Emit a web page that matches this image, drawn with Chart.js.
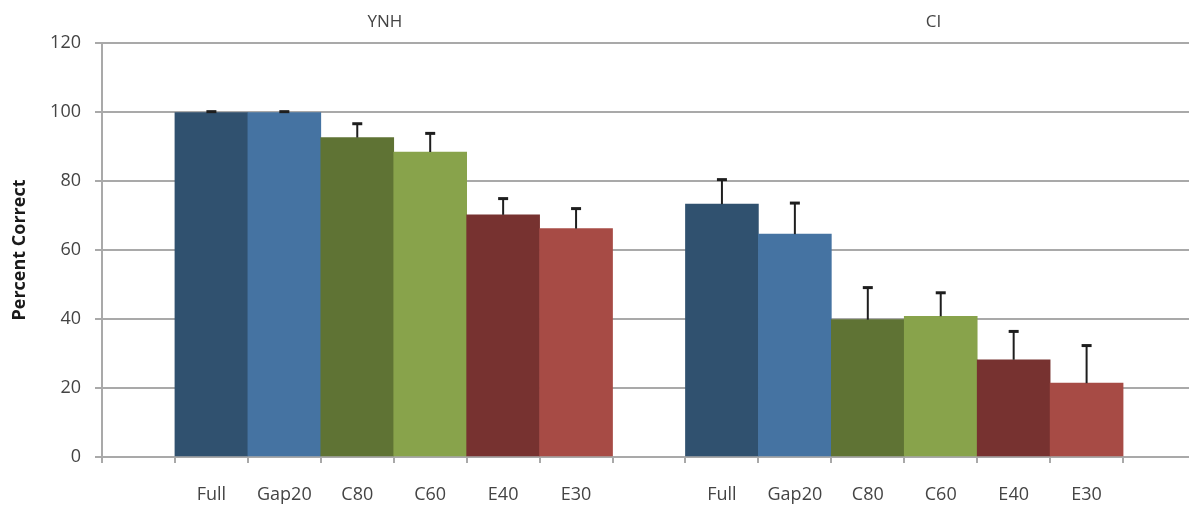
<!DOCTYPE html>
<html>
<head>
<meta charset="utf-8">
<title>Percent Correct by Condition</title>
<script src="https://cdn.jsdelivr.net/npm/chart.js@4.4.1/dist/chart.umd.min.js"></script>
<style>
  html, body { margin: 0; padding: 0; background: #ffffff; overflow: hidden; }
  #wrap { position: absolute; left: 0; top: 0; width: 1196px; height: 508px; }
</style>
</head>
<body>
<div id="wrap"><canvas id="chart"></canvas></div>
<script>
// Listener groups and stimulus conditions
const groups = ['YNH', 'CI'];
const conditions = ['Full', 'Gap20', 'C80', 'C60', 'E40', 'E30'];

// Mean percent correct per condition
const ynhMeans = [99.8, 99.8, 92.6, 88.4, 70.2, 66.2];
const ciMeans = [73.3, 64.6, 39.8, 40.8, 28.2, 21.4];

// Upper error (one standard error) per condition
const ynhErrors = [0.3, 0.3, 4.0, 5.4, 4.7, 5.8];
const ciErrors = [7.1, 9.0, 9.3, 6.8, 8.2, 10.9];

// Y axis ticks
const yTicks = [0, 20, 40, 60, 80, 100, 120];

// One colour per condition
const conditionColors = ['#30516f', '#4573a2', '#5f7334', '#88a34b', '#773230', '#a74b45'];

// Category axis: an empty slot before each group and one after the last
const labels = [''].concat(conditions, [''], conditions, ['']);
const values = [null].concat(ynhMeans, [null], ciMeans, [null]);
const errors = [null].concat(ynhErrors, [null], ciErrors, [null]);
const colors = ['#ffffff'].concat(conditionColors, ['#ffffff'], conditionColors, ['#ffffff']);

const axisGray = '#a9a9a9';
const textGray = '#444444';
const fontFamily = '"Open Sans", "Liberation Sans", sans-serif';

// Upward error bars with caps
const errorBarPlugin = {
  id: 'errorBars',
  afterDatasetsDraw(chart) {
    const meta = chart.getDatasetMeta(0);
    const yScale = chart.scales.y;
    const ctx = chart.ctx;
    ctx.save();
    ctx.strokeStyle = '#1e1e1e';
    meta.data.forEach((bar, i) => {
      const v = values[i];
      const e = errors[i];
      if (v === null || e === null) return;
      const yTop = yScale.getPixelForValue(v + e);
      const yBar = yScale.getPixelForValue(v);
      ctx.lineWidth = 2;
      ctx.beginPath();
      ctx.moveTo(bar.x, yBar);
      ctx.lineTo(bar.x, yTop);
      ctx.stroke();
      ctx.lineWidth = 3;
      ctx.beginPath();
      ctx.moveTo(bar.x - 5, yTop);
      ctx.lineTo(bar.x + 5, yTop);
      ctx.stroke();
    });
    ctx.restore();
  }
};

// Group names above the plot
const groupLabelPlugin = {
  id: 'groupLabels',
  afterDraw(chart, args, opts) {
    const xScale = chart.scales.x;
    const ctx = chart.ctx;
    ctx.save();
    ctx.fillStyle = textGray;
    ctx.font = '17px ' + fontFamily;
    ctx.textAlign = 'center';
    ctx.textBaseline = 'middle';
    groups.forEach((g, i) => {
      ctx.fillText(g, xScale.getPixelForValue(opts.positions[i]), opts.y);
    });
    ctx.restore();
  }
};

new Chart(document.getElementById('chart'), {
  type: 'bar',
  data: {
    labels: labels,
    datasets: [{
      data: values,
      backgroundColor: colors,
      borderWidth: 0,
      barPercentage: 1.0,
      categoryPercentage: 1.0
    }]
  },
  options: {
    responsive: true,
    maintainAspectRatio: false,
    animation: false,
    layout: { padding: { top: 43, right: 0, bottom: 0, left: 0 } },
    plugins: {
      legend: { display: false },
      tooltip: { enabled: false },
      groupLabels: { positions: [3.38, 10.9], y: 22 }
    },
    scales: {
      x: {
        type: 'category',
        offset: true,
        grid: {
          offset: true,
          drawOnChartArea: false,
          drawTicks: true,
          tickLength: 6,
          color: axisGray,
          lineWidth: 2
        },
        border: { display: true, color: axisGray, width: 2 },
        ticks: {
          color: textGray,
          font: { family: fontFamily, size: 18 },
          padding: 21,
          maxRotation: 0,
          autoSkip: false
        },
        afterFit(scale) { scale.height = 51; }
      },
      y: {
        min: 0,
        max: 120,
        afterBuildTicks(scale) { scale.ticks = yTicks.map(v => ({ value: v })); },
        grid: {
          color: axisGray,
          lineWidth: 2,
          drawTicks: true,
          tickLength: 7
        },
        border: { display: true, color: axisGray, width: 2 },
        ticks: {
          color: textGray,
          font: { family: fontFamily, size: 18 },
          padding: 14
        },
        title: {
          display: true,
          text: 'Percent Correct',
          color: '#1a1a1a',
          font: { family: fontFamily, size: 18, weight: 'bold' },
          padding: { top: 9, bottom: 0 }
        },
        afterFit(scale) { scale.width = 102; }
      }
    }
  },
  plugins: [errorBarPlugin, groupLabelPlugin]
});
</script>
</body>
</html>
